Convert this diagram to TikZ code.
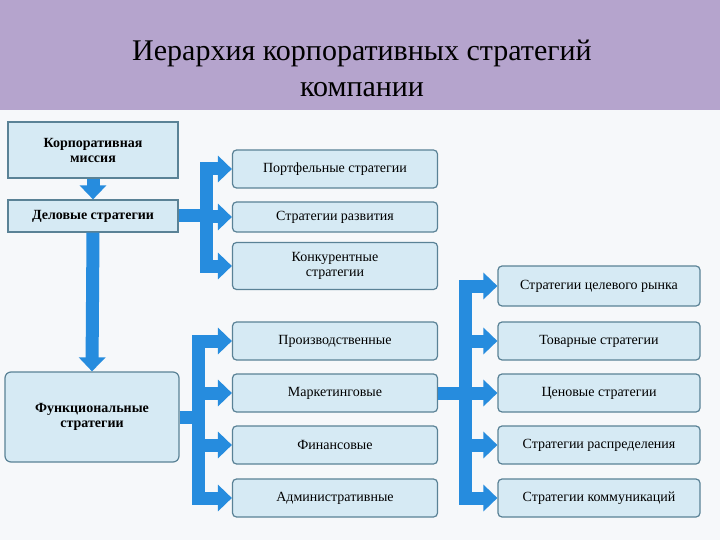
\documentclass[tikz,border=0pt]{standalone}
\usepackage{fontspec}
\setmainfont{Liberation Serif}
\usetikzlibrary{arrows.meta}
\definecolor{hdr}{RGB}{181,164,205}
\definecolor{bg}{RGB}{246,248,250}
\definecolor{bx}{RGB}{214,234,244}
\definecolor{bxd}{RGB}{90,130,150}
\definecolor{arr}{RGB}{38,140,222}
\begin{document}
\begin{tikzpicture}[x=1pt,y=-1pt,
  sq/.style={draw=bxd,line width=1.2pt,fill=bx,font=\bfseries\fontsize{14}{15}\selectfont,align=center,inner sep=0pt},
  rb/.style={draw=bxd,line width=1.2pt,fill=bx,rounded corners=4pt,font=\fontsize{14}{15}\selectfont,align=center,inner sep=0pt,minimum width=205pt},
  rb2/.style={rb,minimum width=202pt},
  shaft/.style={draw=arr,line width=13pt},
  ar/.style={draw=arr,line width=13pt,-{Triangle[width=26pt,length=14pt]}}]
\useasboundingbox (0,0) rectangle (720,540);
\fill[bg] (0,0) rectangle (720,540);
\fill[hdr] (0,0) rectangle (720,110);
\node[font=\fontsize{30}{36}\selectfont,align=center] (title) at (362,68) {Иерархия корпоративных стратегий\\компании};
% left column
\node[sq,minimum width=170pt,minimum height=56pt] (mis) at (93,150) {Корпоративная\\миссия};
\node[sq,minimum width=170pt,minimum height=32pt] (del) at (93,216) {Деловые стратегии};
\node[sq,rounded corners=6pt,minimum width=174pt,minimum height=90pt] (fun) at (92,417) {Функциональные\\стратегии};
% column 1
\node[rb,minimum height=38pt] (p1) at (335,169) {Портфельные стратегии};
\node[rb,minimum height=30pt] (p2) at (335,217) {Стратегии развития};
\node[rb,minimum height=47pt] (p3) at (335,266) {Конкурентные\\стратегии};
\node[rb,minimum height=38pt] (f1) at (335,341) {Производственные};
\node[rb,minimum height=38pt] (f2) at (335,393) {Маркетинговые};
\node[rb,minimum height=38pt] (f3) at (335,445) {Финансовые};
\node[rb,minimum height=38pt] (f4) at (335,498) {Административные};
% column 2
\node[rb2,minimum height=40pt] (m1) at (599,286) {Стратегии целевого рынка};
\node[rb2,minimum height=38pt] (m2) at (599,341) {Товарные стратегии};
\node[rb2,minimum height=38pt] (m3) at (599,393) {Ценовые стратегии};
\node[rb2,minimum height=38pt] (m4) at (599,445) {Стратегии распределения};
\node[rb2,minimum height=38pt] (m5) at (599,498) {Стратегии коммуникаций};
% vertical arrows
\draw[ar] (mis.south) -- (del.north);
\draw[ar] (del.south) -- (fun.north);
% upper bracket
\coordinate (ub) at (206,216);
\draw[shaft] (del.east) -- (ub);
\draw[shaft] (206,163) -- (206,270);
\draw[ar] (200,169) -- (p1.west);
\draw[ar] (200,217) -- (p2.west);
\draw[ar] (200,266) -- (p3.west);
% lower bracket
\coordinate (lb) at (198,417);
\draw[shaft] (fun.east) -- (lb);
\draw[shaft] (198,335) -- (198,504);
\draw[ar] (192,341) -- (f1.west);
\draw[ar] (192,393) -- (f2.west);
\draw[ar] (192,445) -- (f3.west);
\draw[ar] (192,498) -- (f4.west);
% right bracket
\coordinate (rbk) at (465,393);
\draw[shaft] (f2.east) -- (rbk);
\draw[shaft] (465,280) -- (465,504);
\draw[ar] (459,286) -- (m1.west);
\draw[ar] (459,341) -- (m2.west);
\draw[ar] (459,393) -- (m3.west);
\draw[ar] (459,445) -- (m4.west);
\draw[ar] (459,498) -- (m5.west);
\end{tikzpicture}
\end{document}
